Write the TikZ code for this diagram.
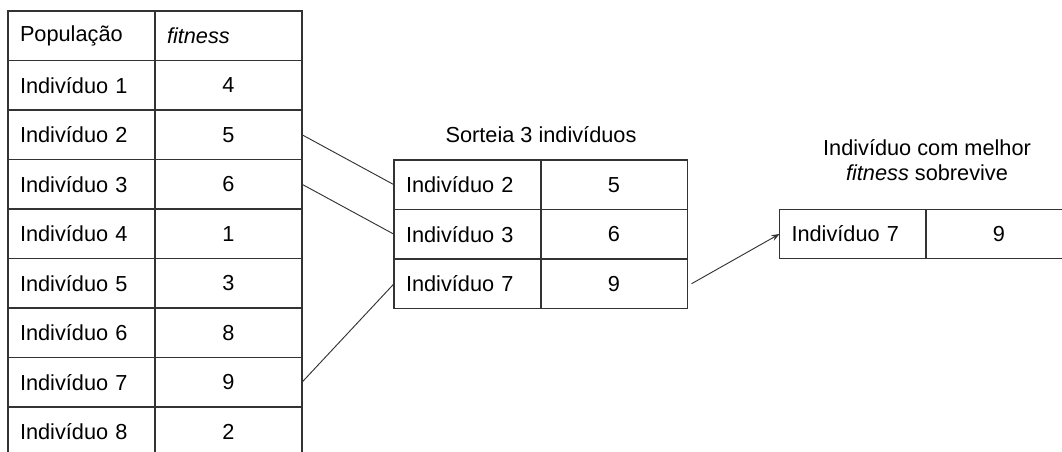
\documentclass[tikz,border=0pt]{standalone}
\usepackage{fontspec}
\setmainfont{Liberation Sans}
\usetikzlibrary{positioning, arrows.meta}

\begin{document}
\begin{tikzpicture}[
            x=0.75pt, y=-0.75pt,
            cell/.style={draw=black!80, line width=0.8pt, rectangle, outer sep=0pt, inner sep=0pt,
                minimum width=110.25pt, minimum height=37.125pt, font=\fontsize{16.3}{19}\selectfont},
            nameCell/.style={cell, inner xsep=9pt, text width=92.25pt, align=left},
            valCell/.style={cell, align=center},
            title/.style={align=center, font=\fontsize{16.3}{18.75}\selectfont},
            link/.style={draw=black!80, line width=0.7pt}
        ]

        \clip (0,0) rectangle (1062,452);

        % populacao
        \node [nameCell] (p0) at (81.5,35.75) {População};
        \node [nameCell] (f0) at (228.5,35.75) {\itshape fitness};
        \foreach \fit [count=\i] in {4,5,6,1,3,8,9,2} {
            \node [nameCell] (p\i) at (81.5,35.75+49.5*\i) {Indivíduo \i};
            \node [valCell] (f\i) at (228.5,35.75+49.5*\i) {\fit};
        }

        % torneio
        \node [title] (sortTitle) at (541,135) {Sorteia 3 indivíduos};
        \foreach \id/\fit [count=\i] in {2/5,3/6,7/9} {
            \node [nameCell] (m\i) at (467.5,135.25+49.5*\i) {Indivíduo \id};
            \node [valCell] (mv\i) at (614,135.25+49.5*\i) {\fit};
        }

        % vencedor
        \node [title] (winTitle) at (927,160) {Indivíduo com melhor\\ \textit{fitness} sobrevive};
        \node [nameCell] (r1) at (853,234) {Indivíduo 7};
        \node [valCell] (rv1) at (999,234) {9};

        \draw [link] (f2.east) -- (m1.west);
        \draw [link] (f3.east) -- (m2.west);
        \draw [link] (f7.east) -- (m3.west);
        \coordinate (mOut) at ([xshift=3pt]mv3.east);
        \draw [link, -{Stealth[length=6pt, width=4.5pt]}] (mOut) -- (r1.west);

    \end{tikzpicture}
\end{document}
